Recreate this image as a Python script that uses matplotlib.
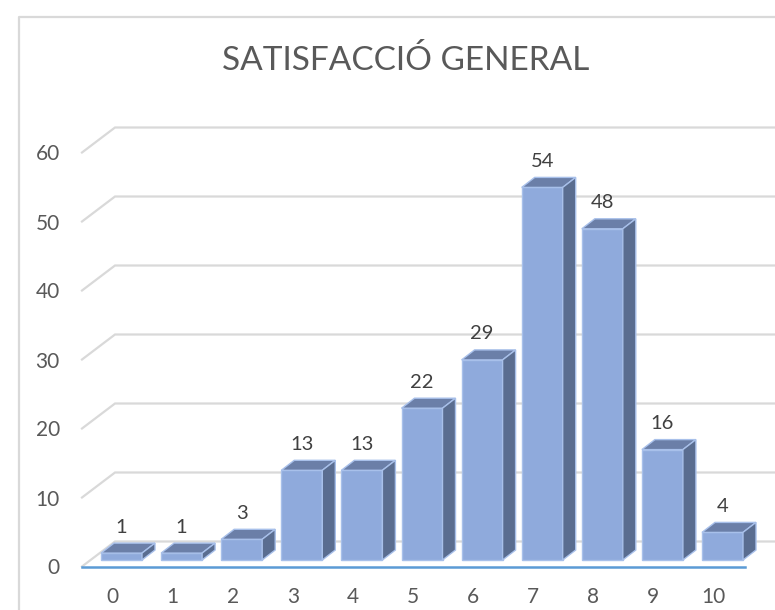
import numpy as np
from matplotlib import pyplot as plt
from matplotlib.lines import Line2D

categories = ['0', '1', '2', '3', '4', '5', '6', '7', '8', '9', '10']
values = [1, 1, 3, 13, 13, 22, 29, 54, 48, 16, 4]
y_ticks = [0, 10, 20, 30, 40, 50, 60]
title = 'SATISFACCIÓ GENERAL'

plt.rcParams['font.family'] = ['Lato', 'DejaVu Sans']

W, H = 775, 610
# pixel layout of the chart
x0_px, x_step = 121.5, 60.1
base_px, y_scale = 560, 6.9
ax_left, ax_top, ax_bottom = 82, 17, 566.5

fig = plt.figure(figsize=(W / 100, H / 100), dpi=100)
ax = fig.add_axes([ax_left / W, 1 - ax_bottom / H, (W - ax_left) / W, (ax_bottom - ax_top) / H])
ax.set_xlim((ax_left - x0_px) / x_step, (W - x0_px) / x_step)
ax.set_ylim((base_px - ax_bottom) / y_scale, (base_px - ax_top) / y_scale)
for s in ax.spines.values():
    s.set_visible(False)

floor_drop = (base_px - ax_bottom) / y_scale
xmin, xmax = ax.get_xlim()

# walls: front-left stub then back line
wall_dx = 33 / x_step
wall_dy = 25 / y_scale
for t in y_ticks:
    yy = t + floor_drop
    ax.plot([xmin, xmin + wall_dx, xmax], [yy, yy + wall_dy, yy + wall_dy],
            color='#d9d9d9', lw=1.6, zorder=1, clip_on=False, solid_joinstyle='miter')

# bars
bar_w = 41 / x_step
depth_x = 13 / x_step
depth_y = 10 / y_scale
front = '#8faadc'
top_c = '#6b7fa8'
side_c = '#5a6d90'
edge = '#a8c0ea'
xs = np.arange(len(values))
ax.bar(xs, values, width=bar_w, color=front, edgecolor=edge, linewidth=1.0, zorder=3)
for x, v in zip(xs, values):
    l, r = x - bar_w / 2, x + bar_w / 2
    ax.fill([l, l + depth_x, r + depth_x, r], [v, v + depth_y, v + depth_y, v],
            facecolor=top_c, edgecolor=edge, linewidth=1.0, zorder=3)
    ax.fill([r, r + depth_x, r + depth_x, r], [0, depth_y, v + depth_y, v],
            facecolor=side_c, edgecolor=edge, linewidth=1.0, zorder=3)
    ax.text(x, v + 26 / y_scale, str(v), ha='center', va='center',
            fontsize=14.5, color='#404040', zorder=4)

# blue floor line
ax.plot([xmin, (745 - x0_px) / x_step], [floor_drop, floor_drop], color='#5b9bd5', lw=1.8,
        zorder=5, clip_on=False)

ax.set_xticks(xs - 9 / x_step)
ax.set_xticklabels(categories)
ax.set_yticks(np.array(y_ticks) + floor_drop)
ax.set_yticklabels(y_ticks)
ax.tick_params(axis='x', length=0, pad=15, labelsize=15, labelcolor='#595959')
ax.tick_params(axis='y', length=0, pad=16, labelsize=15, labelcolor='#595959')

# chart frame cut off by the picture
fig.add_artist(Line2D([19 / W, 19 / W, 1], [0, 1 - 17 / H, 1 - 17 / H], color='#d9d9d9', lw=1.6))
fig.text(406 / W, 1 - 61 / H, title, ha='center', va='center', fontsize=24, color='#595959')

fig.savefig('out.png', dpi=100)
